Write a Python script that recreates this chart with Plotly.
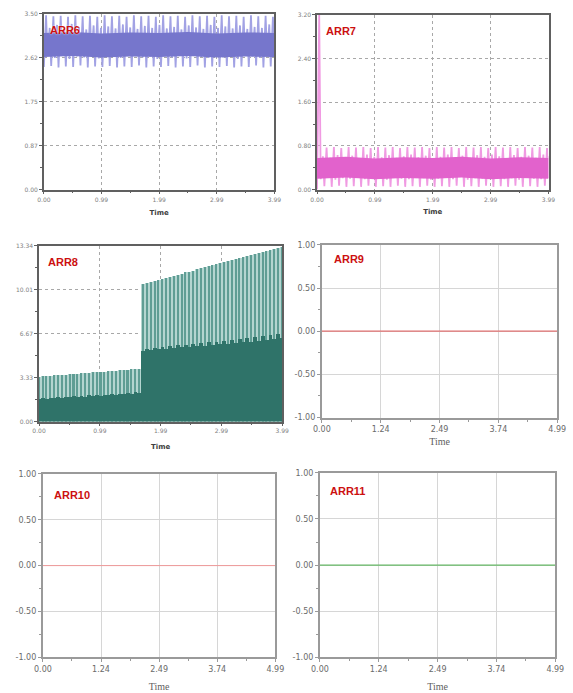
import numpy as np
import plotly.graph_objects as go

W, H = 573, 693

# ---------------- data ----------------
# time axes
time_a_ticks = [0.0, 0.9975, 1.995, 2.9925, 3.99]
time_a_text = ["0.00", "0.99", "1.99", "2.99", "3.99"]
time_b_ticks = [0.0, 1.2475, 2.495, 3.7425, 4.99]
time_b_text = ["0.00", "1.24", "2.49", "3.74", "4.99"]

# value axes
arr6_ticks = [0.0, 0.875, 1.75, 2.625, 3.5]
arr6_text = ["0.00", "0.87", "1.75", "2.62", "3.50"]
arr7_ticks = [0.0, 0.8, 1.6, 2.4, 3.2]
arr7_text = ["0.00", "0.80", "1.60", "2.40", "3.20"]
arr8_ticks = [0.0, 3.335, 6.67, 10.005, 13.34]
arr8_text = ["0.00", "3.33", "6.67", "10.01", "13.34"]
unit_ticks = [-1.0, -0.5, 0.0, 0.5, 1.0]
unit_text = ["-1.00", "-0.50", "0.00", "0.50", "1.00"]

# ARR6: per-cycle maxima / minima of the oscillation, plus the dense core band
arr6_hi = [3.47, 3.22, 3.45, 3.28, 3.46, 3.20, 3.44, 3.30, 3.47, 3.24, 3.45, 3.19, 3.46, 3.27, 3.44, 3.22,
           3.47, 3.25, 3.45, 3.21, 3.46, 3.29, 3.44, 3.23, 3.47, 3.20, 3.45, 3.26, 3.46, 3.22, 3.44, 3.28,
           3.47, 3.21, 3.45, 3.24, 3.46, 3.19, 3.44, 3.27, 3.47, 3.23, 3.45, 3.20, 3.46, 3.28, 3.44, 3.22,
           3.47, 3.25, 3.45, 3.21, 3.46, 3.27, 3.44, 3.20, 3.47, 3.24, 3.45, 3.22, 3.46, 3.29, 3.44, 3.23]
arr6_lo = [2.44, 2.66, 2.46, 2.62, 2.43, 2.68, 2.45, 2.60, 2.44, 2.65, 2.47, 2.63, 2.43, 2.67, 2.45, 2.61,
           2.44, 2.64, 2.46, 2.68, 2.43, 2.62, 2.45, 2.66, 2.44, 2.69, 2.47, 2.63, 2.43, 2.65, 2.45, 2.60,
           2.44, 2.67, 2.46, 2.63, 2.43, 2.66, 2.45, 2.61, 2.44, 2.68, 2.47, 2.64, 2.43, 2.62, 2.45, 2.67,
           2.44, 2.63, 2.46, 2.66, 2.43, 2.60, 2.45, 2.68, 2.44, 2.65, 2.47, 2.62, 2.43, 2.67, 2.45, 2.64]
arr6_core_hi = [3.12, 3.14, 3.11, 3.13, 3.12, 3.14, 3.11, 3.13, 3.12]
arr6_core_lo = [2.64, 2.66, 2.63, 2.65, 2.64, 2.66, 2.63, 2.65, 2.64]

# ARR7
arr7_hi = [3.20, 0.61, 0.77, 0.58, 0.78, 0.63, 0.76, 0.59, 0.78, 0.62, 0.77, 0.57, 0.78, 0.64, 0.76, 0.60,
           0.78, 0.59, 0.77, 0.63, 0.78, 0.58, 0.76, 0.61, 0.78, 0.64, 0.77, 0.59, 0.78, 0.62, 0.76, 0.57,
           0.78, 0.60, 0.77, 0.64, 0.78, 0.59, 0.76, 0.62, 0.78, 0.58, 0.77, 0.63, 0.78, 0.60, 0.76, 0.64,
           0.78, 0.61, 0.77, 0.57, 0.78, 0.63, 0.76, 0.60, 0.78, 0.62, 0.77, 0.58, 0.78, 0.64, 0.76, 0.61]
arr7_lo = [0.00, 0.19, 0.06, 0.22, 0.05, 0.18, 0.07, 0.21, 0.05, 0.20, 0.06, 0.23, 0.05, 0.19, 0.07, 0.22,
           0.05, 0.21, 0.06, 0.18, 0.05, 0.22, 0.07, 0.20, 0.05, 0.19, 0.06, 0.23, 0.05, 0.21, 0.07, 0.18,
           0.05, 0.20, 0.06, 0.22, 0.05, 0.19, 0.07, 0.23, 0.05, 0.18, 0.06, 0.21, 0.05, 0.20, 0.07, 0.22,
           0.05, 0.23, 0.06, 0.19, 0.05, 0.21, 0.07, 0.18, 0.05, 0.22, 0.06, 0.20, 0.05, 0.19, 0.07, 0.21]
arr7_core_hi = [0.58, 0.60, 0.57, 0.59, 0.58, 0.60, 0.57, 0.59, 0.58]
arr7_core_lo = [0.20, 0.22, 0.19, 0.21, 0.20, 0.22, 0.19, 0.21, 0.20]

# ARR8: pulse peaks and the level between pulses
arr8_peak = [3.42, 3.44, 3.46, 3.49, 3.51, 3.53, 3.56, 3.58, 3.60,
             3.63, 3.65, 3.67, 3.70, 3.72, 3.74, 3.77, 3.79, 3.81,
             3.84, 3.86, 3.88, 3.90, 3.93, 3.95, 3.97, 4.00, 4.02,
             10.47, 10.55, 10.63, 10.70, 10.78, 10.86, 10.94, 11.02, 11.09, 11.17,
             11.25, 11.33, 11.40, 11.48, 11.56, 11.64, 11.72, 11.79, 11.87, 11.95,
             12.03, 12.10, 12.18, 12.26, 12.34, 12.42, 12.49, 12.57, 12.65, 12.73,
             12.80, 12.88, 12.96, 13.04, 13.12, 13.19, 13.27]
arr8_base = [1.72, 1.80, 1.74, 1.83, 1.78, 1.86, 1.80, 1.90, 1.84,
             1.93, 1.87, 1.96, 1.90, 1.99, 1.93, 2.03, 1.97, 2.06,
             2.00, 2.10, 2.04, 2.14, 2.07, 2.18, 2.12, 2.22, 2.16,
             5.40, 5.55, 5.46, 5.62, 5.50, 5.68, 5.55, 5.74, 5.60, 5.80,
             5.64, 5.85, 5.69, 5.90, 5.74, 5.96, 5.78, 6.02, 5.83, 6.08,
             5.88, 6.14, 5.92, 6.20, 5.97, 6.26, 6.02, 6.32, 6.07, 6.40,
             6.12, 6.48, 6.18, 6.58, 6.25, 6.66, 6.32]

# ARR9 - ARR11 stay at zero over the whole run
flat_time = [0.0, 4.99]
arr9_values = [0.0, 0.0]
arr10_values = [0.0, 0.0]
arr11_values = [0.0, 0.0]

T_END_A = 3.99

# ---------------- figure ----------------
fig = go.Figure()


def zigzag(hi, lo, t_end):
    n = len(hi)
    dt = t_end / (n - 1)
    xs, ys = [], []
    for i in range(n):
        t = i * dt
        xs += [t, min(t + 0.6 * dt, t_end)]
        ys += [lo[i], hi[i]]
    return xs, ys


def band(hi, lo, t_end):
    t = list(np.linspace(0, t_end, len(hi)))
    return t + t[::-1], list(hi) + list(lo)[::-1]


# ARR6
x, y = zigzag(arr6_hi, arr6_lo, T_END_A)
fig.add_trace(go.Scatter(x=x, y=y, mode="lines", line=dict(color="#a2a2e4", width=1.8),
                         xaxis="x", yaxis="y", hoverinfo="skip"))
x, y = band(arr6_core_hi, arr6_core_lo, T_END_A)
fig.add_trace(go.Scatter(x=x, y=y, mode="lines", fill="toself", fillcolor="#7676cc",
                         line=dict(width=0), xaxis="x", yaxis="y", hoverinfo="skip"))

# ARR7
x, y = zigzag(arr7_hi, arr7_lo, T_END_A)
fig.add_trace(go.Scatter(x=x, y=y, mode="lines", line=dict(color="#f09ae2", width=1.8),
                         xaxis="x2", yaxis="y2", hoverinfo="skip"))
x, y = band(arr7_core_hi, arr7_core_lo, T_END_A)
fig.add_trace(go.Scatter(x=x, y=y, mode="lines", fill="toself", fillcolor="#e262cc",
                         line=dict(width=0), xaxis="x2", yaxis="y2", hoverinfo="skip"))

# ARR8: pale envelope, thin pulse stripes, dark level between pulses
n8 = len(arr8_peak)
dt8 = T_END_A / (n8 - 1)
t8 = [i * dt8 for i in range(n8)]
fig.add_trace(go.Bar(x=t8, y=arr8_peak, width=dt8, marker=dict(color="#b4d5d0", line=dict(width=0)),
                     xaxis="x3", yaxis="y3", hoverinfo="skip"))
fig.add_trace(go.Bar(x=t8, y=arr8_peak, width=0.4 * dt8, marker=dict(color="#5f9d94", line=dict(width=0)),
                     xaxis="x3", yaxis="y3", hoverinfo="skip"))
fig.add_trace(go.Bar(x=t8, y=arr8_base, width=dt8, marker=dict(color="#2f7369", line=dict(width=0)),
                     xaxis="x3", yaxis="y3", hoverinfo="skip"))

# ARR9 - ARR11
fig.add_trace(go.Scatter(x=flat_time, y=arr9_values, mode="lines", line=dict(color="#e07070", width=1.2),
                         xaxis="x4", yaxis="y4", hoverinfo="skip"))
fig.add_trace(go.Scatter(x=flat_time, y=arr10_values, mode="lines", line=dict(color="#f09a9a", width=1),
                         xaxis="x5", yaxis="y5", hoverinfo="skip"))
fig.add_trace(go.Scatter(x=flat_time, y=arr11_values, mode="lines", line=dict(color="#66b866", width=1.2),
                         xaxis="x6", yaxis="y6", hoverinfo="skip"))

# panel boxes in pixels: left, top, right, bottom
panels = [
    dict(name="ARR6", box=(36, 10, 274, 188), xt=(time_a_ticks, time_a_text), yt=(arr6_ticks, arr6_text),
         yr=[0, 3.5], xr=[0, T_END_A], small=True, label=(40, 26), standoff=9),
    dict(name="ARR7", box=(318, 11, 557, 188), xt=(time_a_ticks, time_a_text), yt=(arr7_ticks, arr7_text),
         yr=[0, 3.2], xr=[0, T_END_A], small=True, label=(325, 27), standoff=8),
    dict(name="ARR8", box=(31, 245, 282, 423), xt=(time_a_ticks, time_a_text), yt=(arr8_ticks, arr8_text),
         yr=[0, 13.34], xr=[0, T_END_A], small=True, label=(38, 261), standoff=11),
    dict(name="ARR9", box=(323, 244, 566, 419), xt=(time_b_ticks, time_b_text), yt=(unit_ticks, unit_text),
         yr=[-1, 1], xr=[0, 4.99], small=False, label=(333, 258), standoff=5),
    dict(name="ARR10", box=(35, 476, 275, 662), xt=(time_b_ticks, time_b_text), yt=(unit_ticks, unit_text),
         yr=[-1, 1], xr=[0, 4.99], small=False, label=(44, 497), standoff=10),
    dict(name="ARR11", box=(321, 475, 564, 662), xt=(time_b_ticks, time_b_text), yt=(unit_ticks, unit_text),
         yr=[-1, 1], xr=[0, 4.99], small=False, label=(329, 493), standoff=10),
]

layout = dict(
    width=W, height=H, margin=dict(l=0, r=0, t=0, b=0),
    paper_bgcolor="white", plot_bgcolor="white", showlegend=False,
    barmode="overlay", bargap=0,
)
annotations = []

for i, p in enumerate(panels, start=1):
    l, t, r, b = p["box"]
    sfx = "" if i == 1 else str(i)
    small = p["small"]
    frame = "#606060" if small else "#9a9a9a"
    grid = dict(gridcolor="#a8a8a8", griddash="dot") if small else dict(gridcolor="#d6d6d6", griddash="solid")
    tickfont = dict(family="DejaVu Sans", size=6 if small else 8, color="#808080" if small else "#6a6a6a")
    xt, xtt = p["xt"]
    yt, ytt = p["yt"]
    xmid = [(xt[k] + xt[k + 1]) / 2 for k in range(len(xt) - 1)]
    ymid = [(yt[k] + yt[k + 1]) / 2 for k in range(len(yt) - 1)]
    common = dict(showline=True, mirror=True, linecolor=frame, linewidth=1.5 if small else 2,
                  ticks="outside", ticklen=3, tickcolor=frame, tickwidth=1,
                  showgrid=True, gridwidth=1, zeroline=False, tickfont=tickfont, fixedrange=True, **grid)
    layout["xaxis" + sfx] = dict(
        domain=[l / W, r / W], anchor="y" + sfx, range=p["xr"],
        tickmode="array", tickvals=xt, ticktext=xtt,
        minor=dict(ticks="outside", ticklen=2, tickcolor=frame, tickvals=xmid, showgrid=False),
        title=dict(text="Time", standoff=p["standoff"],
                   font=dict(family="DejaVu Sans" if small else "Liberation Serif",
                             size=7 if small else 10, color="#404040" if small else "#606060",
                             weight="bold" if small else "normal")),
        **common)
    layout["yaxis" + sfx] = dict(
        domain=[1 - b / H, 1 - t / H], anchor="x" + sfx, range=p["yr"],
        tickmode="array", tickvals=yt, ticktext=ytt,
        minor=dict(ticks="outside", ticklen=2, tickcolor=frame, tickvals=ymid, showgrid=False),
        **common)
    lx, ly = p["label"]
    annotations.append(dict(
        text=p["name"], xref="paper", yref="paper", x=lx / W, y=1 - ly / H,
        xanchor="left", yanchor="middle", showarrow=False,
        font=dict(family="Liberation Sans", size=11, color="#cc1010", weight="bold",
                  shadow="0px 0px 2px white"),
    ))

layout["annotations"] = annotations
fig.update_layout(**layout)
fig.write_html("out.html")
